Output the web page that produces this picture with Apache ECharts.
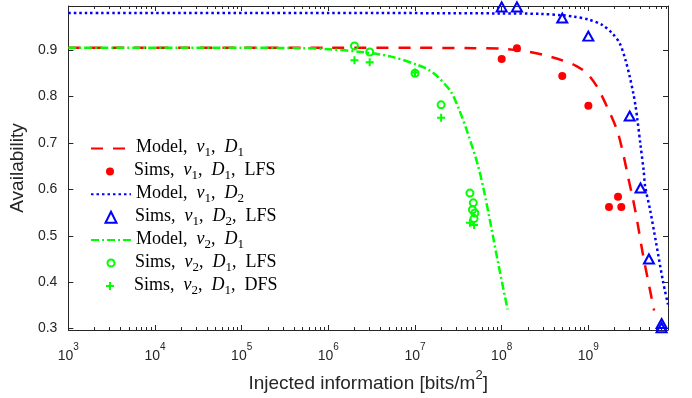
<!DOCTYPE html>
<html>
<head>
<meta charset="utf-8">
<script src="https://cdn.jsdelivr.net/npm/echarts@6/dist/echarts.min.js"></script>
<style>
  html, body { margin: 0; padding: 0; background: #fff; }
  #chart { width: 692px; height: 398px; }
</style>
</head>
<body>
<div id="chart"></div>
<script>
// Axis ranges and tick positions
const X_MIN = 1e3, X_MAX = 8.3e9;
const Y_MIN = 0.297, Y_MAX = 0.995;
const xMajorTicks = [1e3, 1e4, 1e5, 1e6, 1e7, 1e8, 1e9];
const yTicks = [0.3, 0.4, 0.5, 0.6, 0.7, 0.8, 0.9];

// Analytical model curves [injected bits/m^2, availability]
const modelV1D1 = [[1e3, 0.905], [1e6, 0.905], [1e7, 0.905], [5e7, 0.904], [1e8, 0.903], [1.79e8, 0.898],
  [3e8, 0.89], [5.16e8, 0.877], [7.2e8, 0.866], [9.75e8, 0.849], [1.27e9, 0.82], [1.65e9, 0.777],
  [2.15e9, 0.727], [2.52e9, 0.677], [2.88e9, 0.626], [3.29e9, 0.577], [3.66e9, 0.532], [4.28e9, 0.458],
  [5.03e9, 0.392], [5.74e9, 0.339]];
const modelV1D2 = [[1e3, 0.98], [1e6, 0.98], [1e8, 0.979], [2.8e8, 0.978], [5e8, 0.975], [6.8e8, 0.972],
  [1e9, 0.966], [1.45e9, 0.954], [1.89e9, 0.936], [2.31e9, 0.914], [2.69e9, 0.878], [3.01e9, 0.842],
  [3.3e9, 0.807], [3.5e9, 0.78], [3.66e9, 0.754], [4.0e9, 0.695], [4.34e9, 0.642], [4.52e9, 0.607],
  [5.17e9, 0.555], [6.05e9, 0.485], [7.28e9, 0.401], [8.3e9, 0.352]];
const modelV2D1 = [[1e3, 0.905], [1e5, 0.905], [5e5, 0.904], [1e6, 0.902], [2.4e6, 0.896], [5.3e6, 0.886],
  [1.07e7, 0.868], [1.45e7, 0.857], [1.82e7, 0.843], [2.6e7, 0.81], [3.24e7, 0.771], [4.06e7, 0.721],
  [5.3e7, 0.653], [6.21e7, 0.599], [7.48e7, 0.524], [9.0e7, 0.446], [1.17e8, 0.341]];

// Simulation results
const simsV1D1LFS = [[1e8, 0.881], [1.5e8, 0.904], [5e8, 0.844], [1e9, 0.78], [1.73e9, 0.562], [2.2e9, 0.584], [2.4e9, 0.562]];
const simsV1D2LFS = [[1e8, 0.993], [1.5e8, 0.993], [5e8, 0.969], [1e9, 0.93], [3e9, 0.758], [4e9, 0.603],
  [5e9, 0.45], [7e9, 0.311], [7e9, 0.302]];
const simsV2D1LFS = [[2e6, 0.909], [3e6, 0.896], [1e7, 0.85], [2e7, 0.782], [4.3e7, 0.592], [4.7e7, 0.571],
  [4.6e7, 0.556], [4.9e7, 0.549], [4.8e7, 0.537]];
const simsV2D1DFS = [[2e6, 0.878], [3e6, 0.874], [1e7, 0.852], [2e7, 0.754], [4.3e7, 0.528], [4.8e7, 0.523]];

const RED = '#ff0000', BLUE = '#0000ff', GREEN = '#00ff00';
const AXIS = '#262626';
const SANS = 'Liberation Sans, Arial, Helvetica, sans-serif';
const SERIF = 'Liberation Serif, Times New Roman, serif';
const PLUS = 'path://M3,0H5V3H8V5H5V8H3V5H0V3H3Z';
const CLEAR = 'rgba(0,0,0,0)';
const LINE_W = 2.5;

// minor ticks at 2..9 x 10^n
const xMinorTicks = [];
for (let e = 3; e <= 9; e++) {
  for (let k = 2; k <= 9; k++) {
    const v = k * Math.pow(10, e);
    if (v < X_MAX) xMinorTicks.push(v);
  }
}

// legend labels: roman text, italic symbols, lowered subscripts
function legendLabel(kind, v, d, method) {
  let s = '{g| }{n|' + kind + ',}{i|v}{s|' + v + '}{n|,}{i|D}{s|' + d + '}';
  if (method) s += '{n|,}{m|' + method + '}';
  return s;
}
function legendRich(spacer) {
  const base = { fontFamily: SERIF, fontSize: 18, color: '#000', lineHeight: 20, verticalAlign: 'top' };
  return {
    g: { width: spacer, fontSize: 2, lineHeight: 20, verticalAlign: 'top' },
    n: base,
    i: Object.assign({}, base, { fontStyle: 'italic', padding: [0, 0, 0, 9] }),
    m: Object.assign({}, base, { padding: [0, 0, 0, 9] }),
    s: { fontFamily: SERIF, fontSize: 13, color: '#000', lineHeight: 14, padding: [8, 0, 0, 0], verticalAlign: 'top' }
  };
}
// line entries: 40px icon; marker entries: square icon centred at x=110
const legendEntries = [
  { name: 'model-v1-d1', text: legendLabel('Model', 1, 1), line: true },
  { name: 'sims-v1-d1-lfs', text: legendLabel('Sims', 1, 1, 'LFS'), size: 8 },
  { name: 'model-v1-d2', text: legendLabel('Model', 1, 2), line: true },
  { name: 'sims-v1-d2-lfs', text: legendLabel('Sims', 1, 2, 'LFS'), size: 11 },
  { name: 'model-v2-d1', text: legendLabel('Model', 2, 1), line: true },
  { name: 'sims-v2-d1-lfs', text: legendLabel('Sims', 2, 1, 'LFS'), size: 7 },
  { name: 'sims-v2-d1-dfs', text: legendLabel('Sims', 2, 1, 'DFS'), size: 8 }
];
const LEGEND_Y0 = 148.5, LEGEND_STEP = 22.9, ICON_CX = 110, TEXT_X = 134;
const legends = legendEntries.map((e, i) => {
  const w = e.line ? 40 : e.size;
  const left = e.line ? 90 : ICON_CX - e.size / 2;
  const spacer = Math.max(0.1, TEXT_X - (left + w + 5));
  const lg = {
    data: [e.name],
    orient: 'vertical',
    left: left,
    top: LEGEND_Y0 + i * LEGEND_STEP - 10,
    padding: 0,
    itemWidth: w,
    itemHeight: e.line ? 10 : e.size,
    symbolKeepAspect: true,
    selectedMode: false,
    formatter: () => e.text,
    textStyle: { rich: legendRich(spacer) }
  };
  if (e.line) lg.itemStyle = { color: CLEAR, borderColor: CLEAR, borderWidth: 0 };
  return lg;
});

function logAxis(position, ticks, len, showLine, showLabel) {
  return {
    type: 'log', logBase: 10, min: X_MIN, max: X_MAX, position: position,
    axisLine: { show: showLine, lineStyle: { color: AXIS, width: 1 } },
    axisTick: { show: true, inside: true, length: len, customValues: ticks, lineStyle: { color: AXIS, width: 1 } },
    axisLabel: showLabel ? {
      customValues: xMajorTicks,
      margin: 12,
      formatter: v => '{b|10}{p|' + Math.round(Math.log10(v)) + '}',
      rich: {
        b: { fontFamily: SANS, fontSize: 14, color: AXIS, padding: [7, 0, 0, 0], verticalAlign: 'top' },
        p: { fontFamily: SANS, fontSize: 10, color: AXIS, verticalAlign: 'top' }
      }
    } : { show: false },
    splitLine: { show: false },
    minorTick: { show: false }
  };
}

const xAxes = [
  Object.assign(logAxis('bottom', xMajorTicks, 5, true, true), {
    name: '{a|Injected information [bits/m}{s|2}{a|]}',
    nameLocation: 'middle',
    nameGap: 39,
    nameTextStyle: {
      rich: {
        a: { fontFamily: SANS, fontSize: 19, color: AXIS, padding: [5, 0, 0, 0], verticalAlign: 'top' },
        s: { fontFamily: SANS, fontSize: 13, color: AXIS, verticalAlign: 'top' }
      }
    }
  }),
  logAxis('bottom', xMinorTicks, 3, false, false),
  logAxis('top', xMajorTicks, 5, true, false),
  logAxis('top', xMinorTicks, 3, false, false)
];

function valAxis(position, showLabel) {
  return {
    type: 'value', min: Y_MIN, max: Y_MAX, position: position,
    axisLine: { show: true, lineStyle: { color: AXIS, width: 1 } },
    axisTick: { show: true, inside: true, length: 5, customValues: yTicks, lineStyle: { color: AXIS, width: 1 } },
    axisLabel: showLabel ? {
      customValues: yTicks, margin: 11, formatter: v => v.toFixed(1),
      fontFamily: SANS, fontSize: 14, color: AXIS
    } : { show: false },
    splitLine: { show: false }
  };
}
const yAxes = [
  Object.assign(valAxis('left', true), {
    name: 'Availability',
    nameLocation: 'middle',
    nameGap: 26,
    nameTextStyle: { fontFamily: SANS, fontSize: 19, color: AXIS }
  }),
  valAxis('right', false)
];

function modelSeries(name, data, color, dash) {
  return {
    name: name, type: 'line', data: data, symbol: 'none', smooth: 0.3,
    lineStyle: { color: color, width: LINE_W, type: dash, cap: 'butt' },
    itemStyle: { color: color },
    z: 2
  };
}
function simSeries(name, data, symbol, size, style) {
  return {
    name: name, type: 'scatter', data: data, symbol: symbol, symbolSize: size, symbolKeepAspect: true,
    itemStyle: Object.assign({ opacity: 1 }, style), z: 3
  };
}

const option = {
  animation: false,
  backgroundColor: '#fff',
  grid: { left: 66, right: 24, top: 6, bottom: 68, containLabel: false },
  xAxis: xAxes,
  yAxis: yAxes,
  legend: legends,
  series: [
    modelSeries('model-v1-d1', modelV1D1, RED, [12, 10]),
    simSeries('sims-v1-d1-lfs', simsV1D1LFS, 'circle', 8, { color: RED }),
    modelSeries('model-v1-d2', modelV1D2, BLUE, [2.5, 3]),
    simSeries('sims-v1-d2-lfs', simsV1D2LFS, 'triangle', [10, 9], { color: CLEAR, borderColor: BLUE, borderWidth: 2 }),
    modelSeries('model-v2-d1', modelV2D1, GREEN, [8, 3, 2, 3]),
    simSeries('sims-v2-d1-lfs', simsV2D1LFS, 'circle', 7, { color: CLEAR, borderColor: GREEN, borderWidth: 2 }),
    simSeries('sims-v2-d1-dfs', simsV2D1DFS, PLUS, 8, { color: GREEN })
  ]
};

const chart = echarts.init(document.getElementById('chart'), null, { renderer: 'canvas' });
chart.setOption(option);
</script>
</body>
</html>
